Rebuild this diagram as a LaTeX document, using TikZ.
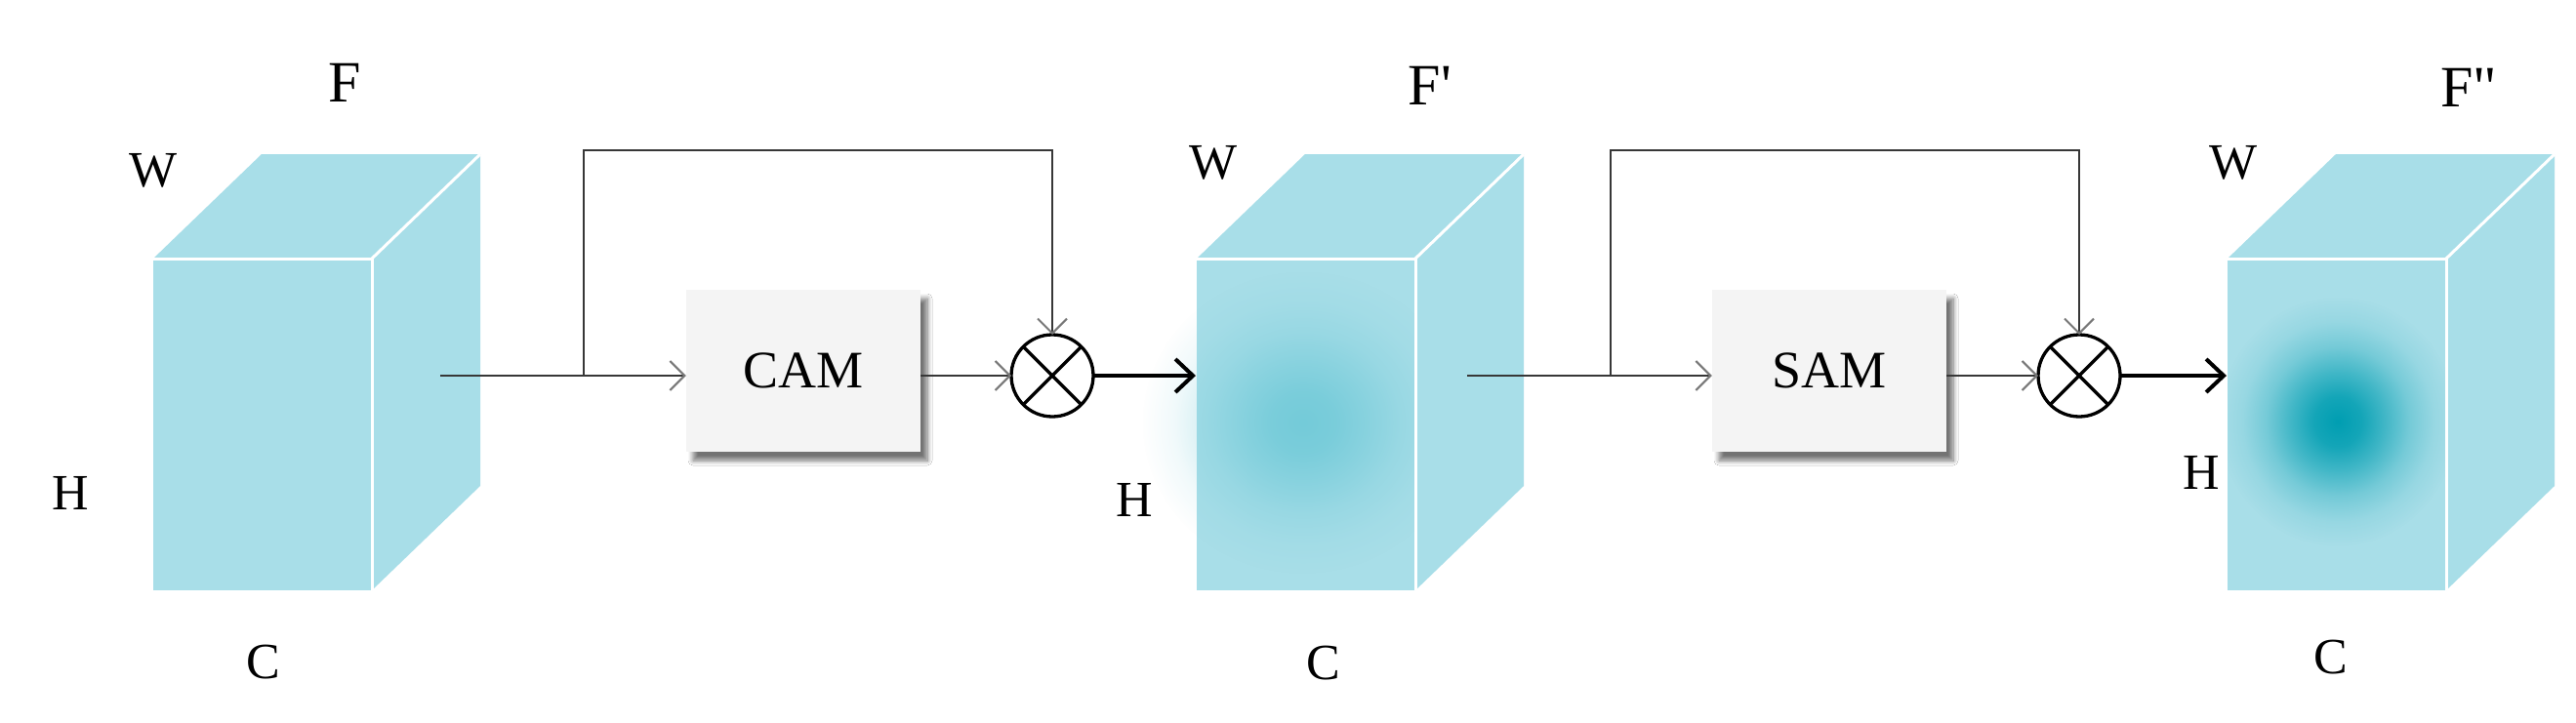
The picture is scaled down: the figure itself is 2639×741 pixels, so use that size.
\documentclass[tikz,border=0pt]{standalone}
\usepackage{fontspec}
\setmainfont{Liberation Serif}
\newfontfamily\rawserif{Liberation Serif}
\usetikzlibrary{arrows.meta,shadows.blur,fadings}
\definecolor{cubecol}{RGB}{168,222,232}
\definecolor{glowA}{RGB}{116,203,217}
\definecolor{glowB}{RGB}{0,158,178}
\definecolor{boxcol}{RGB}{244,244,244}
\definecolor{linecol}{RGB}{55,55,55}
\definecolor{tipcol}{RGB}{120,120,120}
\pgfdeclareradialshading{softball}{\pgfpoint{0bp}{0bp}}{color(0bp)=(black!0); color(5bp)=(black!12); color(10bp)=(black!40); color(15bp)=(black!70); color(20bp)=(black!90); color(25bp)=(black!100); color(50bp)=(black!100)}
\pgfdeclarefading{softfade}{\pgfuseshading{softball}}
\newcommand\featcube[1]{%
  \fill[cubecol] (#1,265) -- ({#1+111},158) -- ({#1+335},158) -- ({#1+224},265) -- cycle;
  \fill[cubecol] ({#1+224},265) -- ({#1+335},158) -- ({#1+335},498) -- ({#1+224},605) -- cycle;
  \fill[cubecol] (#1,265) rectangle ({#1+224},605);
}
\newcommand\cubeedges[1]{%
  \draw[whiteedge] (#1,265) -- ({#1+224},265) -- ({#1+224},605);
  \draw[whiteedge] ({#1+224},265) -- ({#1+335},158);
}
\begin{document}
\begin{tikzpicture}[x=1pt,y=-1pt,
  lbl/.style={inner sep=0pt, font=\fontsize{52}{60}\selectfont},
  flbl/.style={inner sep=0pt, font=\rawserif\fontsize{60}{70}\selectfont},
  modbox/.style={fill=boxcol, minimum width=240pt, minimum height=166pt, inner sep=0pt,
    font=\fontsize{54}{62}\selectfont,
    blur shadow={shadow xshift=7pt, shadow yshift=-9pt, shadow blur radius=5pt, shadow blur steps=8, shadow opacity=55}},
  mult/.style={circle, draw=black, line width=3.3pt, minimum size=84pt, inner sep=0pt, outer sep=0pt},
  crossline/.style={draw=black, line width=3.3pt},
  thinline/.style={draw=linecol, line width=2pt},
  thinarrow/.style={thinline, -{Straight Barb[length=15pt,width=30pt,color=tipcol]}},
  thickarrow/.style={draw=black, line width=4pt, -{Straight Barb[length=18pt,width=34pt]}},
  whiteedge/.style={draw=white, line width=3pt},
]
\fill[white] (0,0) rectangle (2639,741);
\useasboundingbox (0,0) rectangle (2639,741);

% cube 1
\featcube{157}
\cubeedges{157}
% cube 2
\featcube{1226}
\begin{scope}
  \clip (1100,265) rectangle (1449,605);
  \fill[glowA, path fading=softfade] (1335,433) ellipse (165 and 155);
\end{scope}
\cubeedges{1226}
% cube 3
\featcube{2282}
\begin{scope}
  \clip (2282,265) rectangle (2507,605);
  \fill[glowB, path fading=softfade] (2395,432) ellipse (122 and 128);
\end{scope}
\cubeedges{2282}

% labels
\node[flbl] (lF1) at (353,85) {F};
\node[lbl] (lW1) at (157,175) {W};
\node[lbl] (lH1) at (72,505) {H};
\node[lbl] (lC1) at (270,679) {C};
\node[flbl] (lF2) at (1465,88) {F'};
\node[lbl] (lW2) at (1243,167) {W};
\node[lbl] (lH2) at (1162,512) {H};
\node[lbl] (lC2) at (1356,680) {C};
\node[flbl] (lF3) at (2529,90) {F"};
\node[lbl] (lW3) at (2288,167) {W};
\node[lbl] (lH3) at (2255,484) {H};
\node[lbl] (lC3) at (2388,674) {C};

% stage 1
\coordinate (s1) at (451,385);
\coordinate (b1) at (598,385);
\coordinate (t1) at (598,154);
\node[modbox] (cam) at (823,380) {CAM};
\node[mult] (m1) at (1078,385) {};
\draw[crossline] (m1.45) -- (m1.225) (m1.135) -- (m1.315);
\coordinate (in2) at (1225,385);
\draw[thinline] (s1) -- (b1);
\draw[thinarrow] (b1) -- (b1 -| cam.west);
\draw[thinarrow] (b1) -- (t1) -| (m1.north);
\draw[thinarrow] (cam.east |- m1.west) -- (m1.west);
\draw[thickarrow] (m1.east) -- (in2);

% stage 2
\coordinate (s2) at (1503,385);
\coordinate (b2) at (1650,385);
\coordinate (t2) at (1650,154);
\node[modbox] (sam) at (1874,380) {SAM};
\node[mult] (m2) at (2130,385) {};
\draw[crossline] (m2.45) -- (m2.225) (m2.135) -- (m2.315);
\coordinate (in3) at (2281,385);
\draw[thinline] (s2) -- (b2);
\draw[thinarrow] (b2) -- (b2 -| sam.west);
\draw[thinarrow] (b2) -- (t2) -| (m2.north);
\draw[thinarrow] (sam.east |- m2.west) -- (m2.west);
\draw[thickarrow] (m2.east) -- (in3);
\end{tikzpicture}
\end{document}
